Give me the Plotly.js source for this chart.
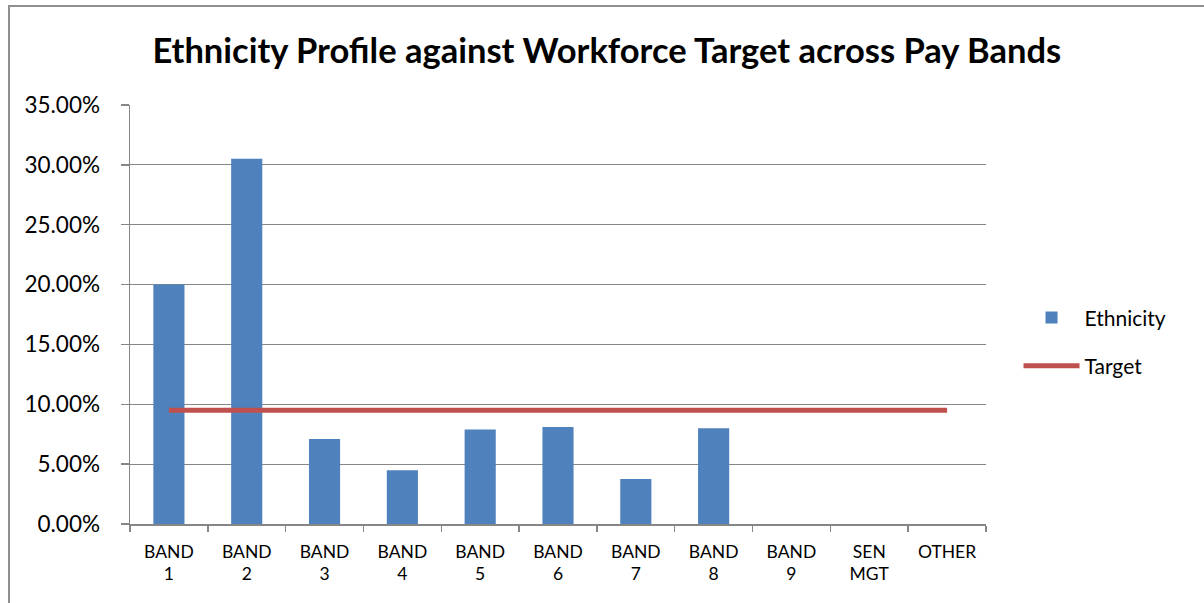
<!DOCTYPE html>
<html>
<head>
<meta charset="utf-8">
<script src="https://cdn.plot.ly/plotly-3.0.1.min.js"></script>
<style>
  html, body { margin: 0; padding: 0; background: #fff; }
  #wrap { position: relative; width: 1204px; height: 603px; overflow: hidden; }
  #chart { position: absolute; left: 0; top: 0; width: 1204px; height: 603px; }
  #frame { position: absolute; left: 8px; top: 5px; right: -10px; bottom: -10px;
           border-left: 2px solid #8f8f8f; border-top: 2px solid #8f8f8f; pointer-events: none; }
</style>
</head>
<body>
<div id="wrap">
  <div id="chart"></div>
  <div id="frame"></div>
</div>
<script>
// Data
const categories = ["BAND<br>1", "BAND<br>2", "BAND<br>3", "BAND<br>4", "BAND<br>5", "BAND<br>6",
                    "BAND<br>7", "BAND<br>8", "BAND<br>9", "SEN<br>MGT", "OTHER"];
const ethnicity = [0.200, 0.305, 0.071, 0.045, 0.079, 0.081, 0.0375, 0.080, 0, 0, 0];
const target = [0.095, 0.095, 0.095, 0.095, 0.095, 0.095, 0.095, 0.095, 0.095, 0.095, 0.095];
const yTicks = [0, 0.05, 0.10, 0.15, 0.20, 0.25, 0.30, 0.35];

const FONT = "Lato, 'Open Sans', 'Liberation Sans', sans-serif";
const GRID = "#868686";

const traces = [
  {
    type: "bar", name: "Ethnicity", x: categories, y: ethnicity,
    marker: { color: "#4F81BD", line: { width: 0 } },
    legendgroup: "a", hoverinfo: "x+y"
  },
  {
    type: "scatter", mode: "lines", name: "Target", x: categories, y: target,
    line: { color: "#C0504D", width: 5 },
    legendgroup: "b", hoverinfo: "x+y"
  }
];

const layout = {
  width: 1204, height: 603,
  margin: { l: 130, r: 218, t: 105, b: 79, pad: 0 },
  paper_bgcolor: "rgba(0,0,0,0)", plot_bgcolor: "#fff",
  font: { family: FONT, color: "#000" },
  title: {
    text: "<b>Ethnicity Profile against Workforce Target across Pay Bands</b>",
    font: { family: FONT, size: 34.5, color: "#000" },
    x: 0.504, xref: "container", xanchor: "center",
    y: 1 - 51 / 603, yref: "container", yanchor: "middle"
  },
  bargap: 0.6,
  showlegend: true,
  legend: {
    x: 1.038, xanchor: "left", y: 0.435, yanchor: "middle",
    font: { family: FONT, size: 21, color: "#000" },
    traceorder: "grouped", tracegroupgap: 18, itemwidth: 56,
    bgcolor: "rgba(0,0,0,0)"
  },
  xaxis: {
    type: "category", tickson: "boundaries",
    ticks: "outside", ticklen: 6, tickwidth: 1.5, tickcolor: GRID,
    showline: true, linecolor: GRID, linewidth: 1.5,
    showgrid: false, ticklabelstandoff: 11,
    tickfont: { family: FONT, size: 17.5, color: "#000" }
  },
  yaxis: {
    range: [0, 0.35], tickvals: yTicks, tickformat: ".2%",
    ticks: "outside", ticklen: 8, tickwidth: 1.5, tickcolor: GRID,
    showline: true, linecolor: GRID, linewidth: 1.5,
    showgrid: true, gridcolor: GRID, gridwidth: 1.2, zeroline: false,
    ticklabelstandoff: 16,
    tickfont: { family: FONT, size: 22.5, color: "#000" }
  }
};

Plotly.newPlot("chart", traces, layout, { displayModeBar: false, staticPlot: true });
</script>
</body>
</html>
